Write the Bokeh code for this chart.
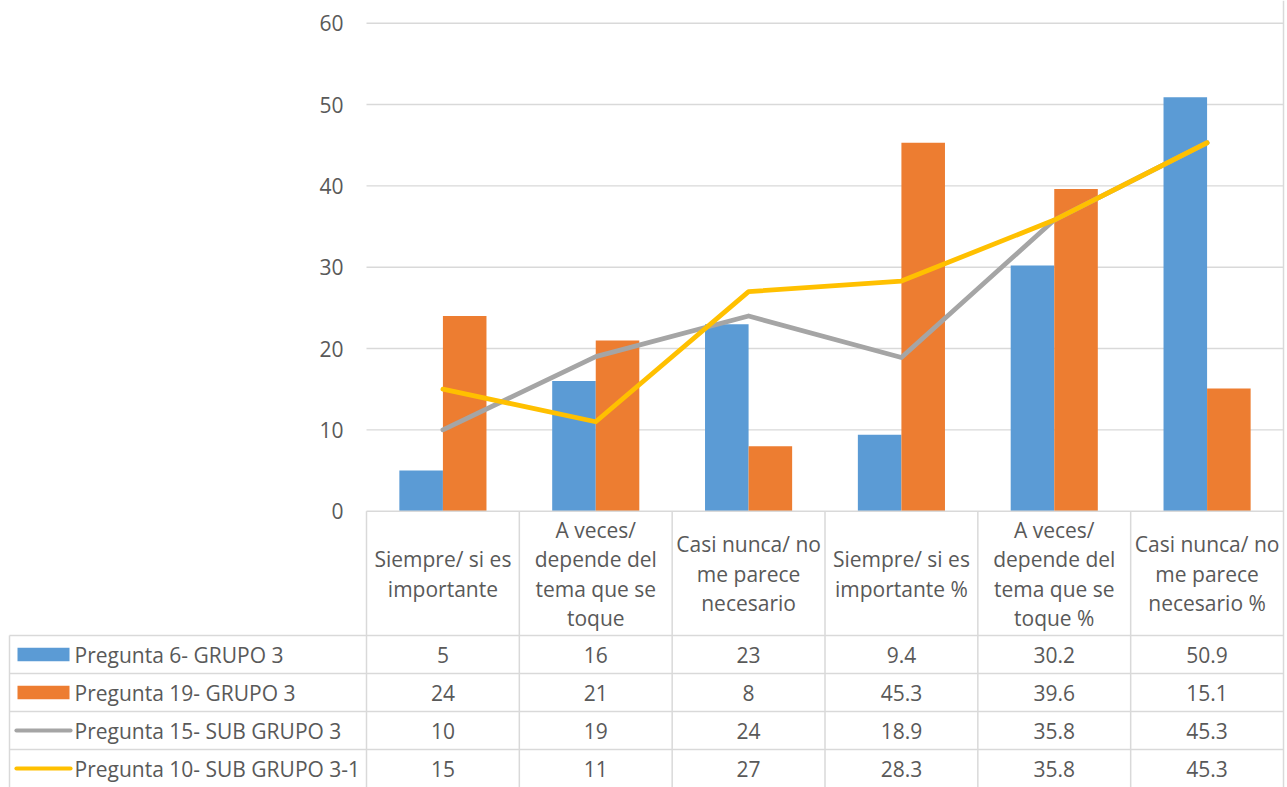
import numpy as np
from bokeh.plotting import figure
from bokeh.models import Range1d, LinearAxis, FixedTicker
from bokeh.embed import file_html
from bokeh.resources import INLINE
from bokeh.core.properties import value

# ---- data -------------------------------------------------------------
categories = [
    "Siempre/ si es\nimportante",
    "A veces/\ndepende del\ntema que se\ntoque",
    "Casi nunca/ no\nme parece\nnecesario",
    "Siempre/ si es\nimportante %",
    "A veces/\ndepende del\ntema que se\ntoque %",
    "Casi nunca/ no\nme parece\nnecesario %",
]
series_names = [
    "Pregunta 6- GRUPO 3",
    "Pregunta 19- GRUPO 3",
    "Pregunta 15- SUB GRUPO 3",
    "Pregunta 10- SUB GRUPO 3-1",
]
pregunta6 = [5, 16, 23, 9.4, 30.2, 50.9]
pregunta19 = [24, 21, 8, 45.3, 39.6, 15.1]
pregunta15 = [10, 19, 24, 18.9, 35.8, 45.3]
pregunta10 = [15, 11, 27, 28.3, 35.8, 45.3]
y_ticks = [0, 10, 20, 30, 40, 50, 60]

# ---- style ------------------------------------------------------------
BLUE, ORANGE, GRAY, GOLD = "#5b9bd5", "#ed7d31", "#a5a5a5", "#ffc000"
RULE = "#d9d9d9"
INK = "#595959"
FONT = value("Open Sans")
FS = "21px"

W, H = 1287, 787
PLOT_L, PLOT_R = 366.0, 1283.0           # plot area, page pixels
Y0_PX, Y60_PX = 510.7, 22.7              # value 0 / 60, page pixels
n = len(categories)
ux = (PLOT_R - PLOT_L) / n               # px per category
uy = (Y0_PX - Y60_PX) / 60.0             # px per value unit

p = figure(
    width=W, height=H, output_backend="svg", toolbar_location=None,
    x_axis_location=None, y_axis_location=None,
    x_range=Range1d(-PLOT_L / ux, (W - PLOT_L) / ux),
    y_range=Range1d(-(H - Y0_PX) / uy, 60 + Y60_PX / uy),
    min_border=0, min_border_left=0, min_border_right=0,
    min_border_top=0, min_border_bottom=0,
)
p.outline_line_color = None
p.xgrid.visible = False
p.ygrid.visible = False
p.background_fill_color = "white"
p.border_fill_color = "white"
# page-pixel coordinates for the data table
p.extra_x_ranges = {"px": Range1d(0, W)}
p.extra_y_ranges = {"px": Range1d(H, 0)}

# value axis, pinned to the left edge of the plot area
yaxis = LinearAxis(ticker=FixedTicker(ticks=y_ticks), fixed_location=0)
yaxis.axis_line_color = None
yaxis.major_tick_line_color = None
yaxis.minor_tick_line_color = None
yaxis.major_tick_out = 0
yaxis.major_tick_in = 0
yaxis.major_label_standoff = 23
yaxis.major_label_text_font = "Open Sans"
yaxis.major_label_text_font_size = FS
yaxis.major_label_text_color = INK
p.add_layout(yaxis, "left")

xc = np.arange(n) + 0.5
bw = 0.285

# horizontal gridlines
grid_y = [t for t in y_ticks if t > 0]
p.segment(x0=[0] * len(grid_y), x1=[n] * len(grid_y), y0=grid_y, y1=grid_y,
          line_color=RULE, line_width=1.4)

# bars
p.vbar(x=xc - bw / 2, width=bw, top=pregunta6, bottom=0,
       fill_color=BLUE, line_color=None)
p.vbar(x=xc + bw / 2, width=bw, top=pregunta19, bottom=0,
       fill_color=ORANGE, line_color=None)

# lines
p.line(xc, pregunta15, line_color=GRAY, line_width=4.8,
       line_cap="round", line_join="round")
p.line(xc, pregunta10, line_color=GOLD, line_width=4.8,
       line_cap="round", line_join="round")

# ---- data table -------------------------------------------------------
HEAD_TOP, HEAD_BOT = Y0_PX, 635.0
ROW_H = 38.0
row_tops = [HEAD_BOT + i * ROW_H for i in range(len(series_names))]
row_mid = [t + ROW_H / 2 for t in row_tops]
LEG_L = 9.0

# baseline / top edge of the header row
p.segment(x0=[0], x1=[n], y0=[0], y1=[0], line_color=RULE, line_width=1.5)
# row separators
p.segment(x0=[LEG_L] * len(row_tops), x1=[PLOT_R] * len(row_tops),
          y0=row_tops, y1=row_tops, line_color=RULE, line_width=1.5,
          x_range_name="px", y_range_name="px")
# column separators below the plot area
edges = list(range(n))
p.segment(x0=edges, x1=edges, y0=[HEAD_TOP] * n, y1=[H] * n,
          line_color=RULE, line_width=1.5, y_range_name="px")
# right border over the full height
p.segment(x0=[n], x1=[n], y0=[0], y1=[H],
          line_color=RULE, line_width=1.5, y_range_name="px")
# left border of the legend column
p.segment(x0=[LEG_L], x1=[LEG_L], y0=[HEAD_BOT], y1=[H],
          line_color=RULE, line_width=1.5, x_range_name="px", y_range_name="px")

# category headers
LINE_H = 29.5
head_mid = (HEAD_TOP + HEAD_BOT) / 2 + 0.5
hx, hy, ht = [], [], []
for i, cat in enumerate(categories):
    parts = cat.split("\n")
    for j, part in enumerate(parts):
        hx.append(xc[i])
        hy.append(head_mid + (j - (len(parts) - 1) / 2) * LINE_H)
        ht.append(part)
p.text(x=hx, y=hy, text=ht, text_align="center", text_baseline="middle",
       text_font=FONT, text_font_size=FS, text_color=INK, y_range_name="px")

# cell values
vx, vy, vt = [], [], []
for r, vals in enumerate([pregunta6, pregunta19, pregunta15, pregunta10]):
    for i, v in enumerate(vals):
        vx.append(xc[i])
        vy.append(row_mid[r])
        vt.append(f"{v:g}")
p.text(x=vx, y=vy, text=vt, text_align="center", text_baseline="middle",
       text_font=FONT, text_font_size=FS, text_color=INK, y_range_name="px")

# legend keys
KEY_L, KEY_R = 17.0, 69.0
p.quad(left=[KEY_L, KEY_L], right=[KEY_R, KEY_R],
       top=[row_mid[0] - 6.8, row_mid[1] - 6.8],
       bottom=[row_mid[0] + 6.8, row_mid[1] + 6.8],
       fill_color=[BLUE, ORANGE], line_color=None,
       x_range_name="px", y_range_name="px")
p.segment(x0=[16, 16], x1=[70, 70], y0=[row_mid[2], row_mid[3]],
          y1=[row_mid[2], row_mid[3]], line_color=[GRAY, GOLD],
          line_width=4.2, line_cap="round",
          x_range_name="px", y_range_name="px")
p.text(x=[74.0] * len(series_names), y=row_mid, text=series_names,
       text_align="left", text_baseline="middle",
       text_font=FONT, text_font_size=FS, text_color=INK,
       x_range_name="px", y_range_name="px")

open("out.html", "w").write(file_html(p, INLINE))
